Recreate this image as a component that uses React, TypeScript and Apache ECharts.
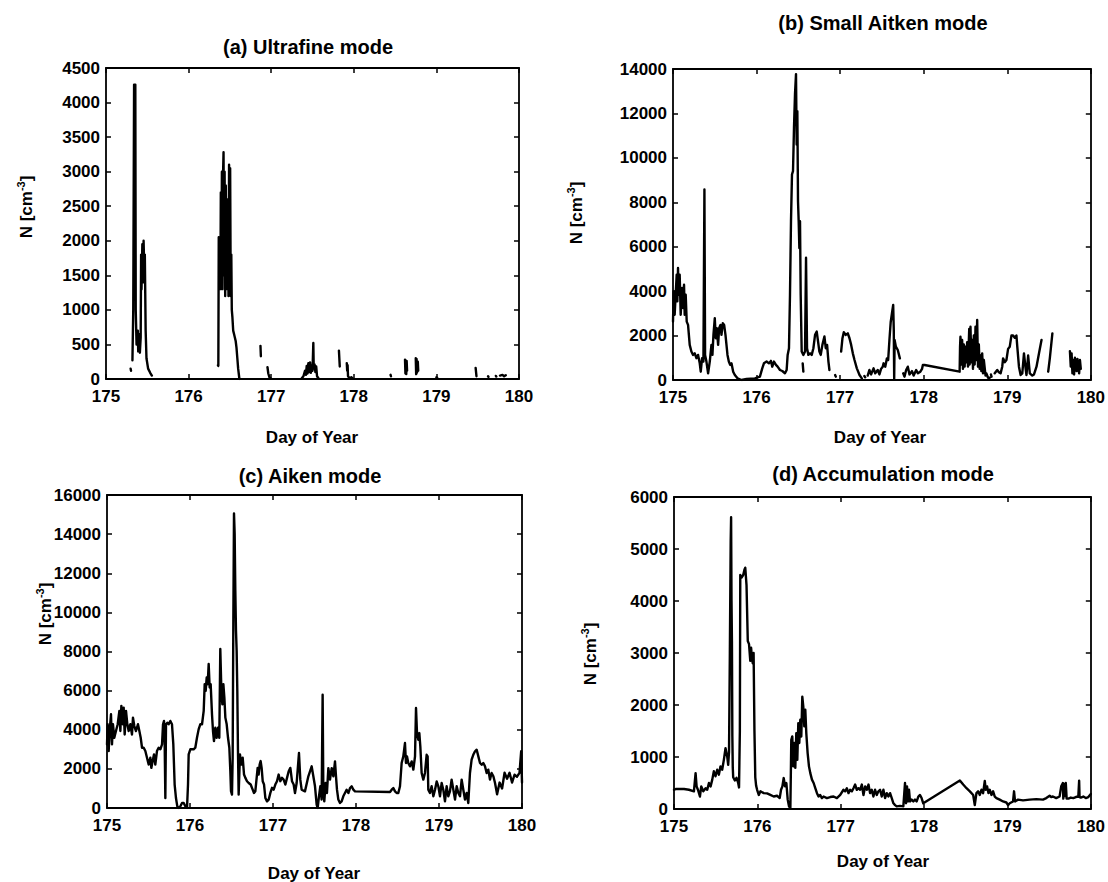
import React, { useEffect, useRef } from "react";
import * as echarts from "echarts";

type Pt = [number, number];

const FONT = '"Liberation Sans", Arial, Helvetica, sans-serif';

// Shared time axis (day of year)
const dayMin = 175;
const dayMax = 180;
const dayStep = 1;

const titles = [
  "(a) Ultrafine mode",
  "(b) Small Aitken mode",
  "(c) Aiken mode",
  "(d) Accumulation mode",
];
const xAxisName = "Day of Year";

// y-axis ranges: [max, step]
const ultrafineRange: [number, number] = [4500, 500];
const smallAitkenRange: [number, number] = [14000, 2000];
const aitkenRange: [number, number] = [16000, 2000];
const accumulationRange: [number, number] = [6000, 1000];

// (a) Ultrafine mode: number concentration, broken record
const ultrafineSegments: Pt[][] = [
  [[175.298, 150], [175.303, 120]],
  [[175.32, 270], [175.33, 1000], [175.34, 4260], [175.355, 4260], [175.36, 1000], [175.37, 500], [175.385, 700], [175.39, 400], [175.4, 650], [175.41, 380], [175.42, 600], [175.425, 1800], [175.43, 1300], [175.44, 1950], [175.45, 1400], [175.455, 2000], [175.465, 1500], [175.47, 1800], [175.48, 700], [175.49, 300], [175.51, 150], [175.535, 90], [175.555, 50]],
  [[176.355, 200], [176.36, 190], [176.365, 2050], [176.372, 1400], [176.378, 2000], [176.385, 1300], [176.39, 2700], [176.397, 1400], [176.403, 3000], [176.41, 1300], [176.416, 2900], [176.423, 3280], [176.43, 1500], [176.436, 3000], [176.443, 1200], [176.45, 2800], [176.456, 1300], [176.463, 2600], [176.47, 1400], [176.477, 2200], [176.483, 1200], [176.49, 3100], [176.497, 1500], [176.503, 3050], [176.51, 1200], [176.517, 1800], [176.523, 1000], [176.53, 900], [176.54, 700], [176.55, 650], [176.56, 600], [176.57, 550], [176.58, 450], [176.59, 300], [176.6, 150], [176.615, 0]],
  [[176.87, 480], [176.875, 330]],
  [[176.955, 170], [176.965, 80], [176.98, 20], [177.0, 5]],
  [[177.37, 10], [177.39, 40], [177.41, 120], [177.42, 60], [177.43, 190], [177.44, 80], [177.45, 230], [177.46, 100], [177.47, 240], [177.48, 90], [177.49, 200], [177.5, 120], [177.51, 520], [177.515, 150], [177.525, 210], [177.535, 100], [177.545, 180], [177.555, 40], [177.57, 15]],
  [[177.82, 410], [177.83, 180]],
  [[177.915, 230], [177.92, 120], [177.925, 200], [177.93, 40], [177.95, 10], [177.97, 25], [177.99, 5]],
  [[178.445, 60], [178.45, 40]],
  [[178.62, 280], [178.625, 80], [178.63, 270], [178.635, 70], [178.64, 260], [178.645, 120]],
  [[178.75, 300], [178.755, 70], [178.76, 290], [178.765, 90], [178.775, 250], [178.78, 120]],
  [[179.0, 25], [179.01, 15]],
  [[179.475, 160], [179.485, 40]],
  [[179.625, 40], [179.63, 30]],
  [[179.72, 45], [179.725, 35]],
  [[179.77, 50], [179.8, 60], [179.82, 40], [179.84, 55]],
];

// (b) Small Aitken mode
const smallAitkenSegments: Pt[][] = [
  [[175.0, 2630], [175.008, 3990], [175.02, 2935], [175.032, 3840], [175.044, 4740], [175.052, 3540], [175.06, 5040], [175.068, 3840], [175.08, 4740], [175.092, 2935], [175.108, 4140], [175.12, 3240], [175.132, 4290], [175.14, 2935], [175.152, 3840], [175.164, 2630], [175.18, 2480], [175.2, 1580], [175.22, 1280], [175.24, 1130], [175.26, 1200], [175.28, 980], [175.3, 1130], [175.32, 750], [175.332, 375], [175.348, 980], [175.364, 830], [175.376, 8580], [175.384, 1130], [175.4, 830], [175.42, 300], [175.44, 830], [175.46, 1580], [175.472, 1130], [175.484, 2030], [175.5, 2780], [175.512, 1880], [175.524, 2330], [175.54, 1580], [175.552, 2330], [175.568, 2480], [175.58, 2030], [175.596, 2560], [175.612, 2480], [175.628, 2030], [175.64, 1580], [175.652, 1130], [175.668, 830], [175.684, 680], [175.7, 750], [175.72, 375], [175.74, 225], [175.772, 75], [175.82, 0], [175.88, 45], [175.98, 75], [176.04, 150], [176.068, 525], [176.088, 750], [176.12, 830], [176.148, 750], [176.172, 860], [176.188, 600], [176.208, 830], [176.232, 680], [176.252, 600], [176.28, 450], [176.308, 405], [176.34, 300], [176.36, 450], [176.372, 1130], [176.388, 1430], [176.4, 3840], [176.412, 7150], [176.424, 9260], [176.436, 9400], [176.448, 11360], [176.46, 12870], [176.472, 13770], [176.48, 10600], [176.488, 12100], [176.496, 8050], [176.504, 7150], [176.512, 5945], [176.52, 7150], [176.528, 3840], [176.54, 1280], [176.56, 1130], [176.58, 1280], [176.592, 5500], [176.604, 1430], [176.62, 1130], [176.64, 1200], [176.66, 1130], [176.68, 1430], [176.7, 2030], [176.72, 2180], [176.736, 1730], [176.752, 1280], [176.768, 1130], [176.788, 1580], [176.812, 1960], [176.828, 1430], [176.844, 1580], [176.86, 830], [176.872, 450]],
  [[176.552, 750], [176.56, 375]],
  [[176.94, 225], [176.948, 150]],
  [[177.012, 1280], [177.028, 1880], [177.044, 2150], [177.068, 2030], [177.092, 2100], [177.112, 1880], [177.132, 1580], [177.152, 1200], [177.172, 900], [177.2, 525], [177.232, 225], [177.26, 75]],
  [[177.29, 180], [177.3, 120]],
  [[177.33, 200], [177.35, 450], [177.37, 250], [177.4, 525], [177.42, 300], [177.45, 450], [177.47, 250], [177.49, 500], [177.51, 600], [177.52, 750], [177.54, 600], [177.56, 975], [177.575, 900], [177.59, 1800], [177.605, 2600], [177.62, 3000], [177.635, 3380], [177.642, 2250], [177.647, 60], [177.652, 1800], [177.667, 1500], [177.69, 1350], [177.715, 975]],
  [[177.755, 300], [177.77, 150], [177.79, 450], [177.81, 600], [177.83, 250], [177.86, 400], [177.88, 200], [177.91, 450], [177.93, 300], [177.96, 375], [177.98, 500], [177.99, 680], [178.01, 675], [178.43, 375], [178.435, 1500], [178.44, 1950], [178.45, 700], [178.46, 1800], [178.47, 500], [178.48, 1600], [178.49, 600], [178.5, 1500], [178.51, 800], [178.52, 1700], [178.53, 600], [178.545, 2300], [178.55, 700], [178.56, 2400], [178.57, 800], [178.58, 1800], [178.59, 500], [178.6, 2000], [178.61, 700], [178.62, 2400], [178.63, 900], [178.64, 2700], [178.65, 600], [178.66, 1600], [178.67, 500], [178.68, 1100], [178.69, 400], [178.7, 1200], [178.71, 300], [178.72, 900], [178.74, 200], [178.75, 300], [178.77, 100], [178.79, 100]],
  [[178.805, 250], [178.812, 150]],
  [[178.85, 300], [178.88, 450], [178.9, 350], [178.92, 300], [178.94, 600], [178.95, 975], [178.97, 800], [178.99, 900], [179.01, 1400], [179.03, 1500], [179.05, 2000], [179.07, 2000], [179.09, 1900], [179.11, 2000], [179.12, 1500], [179.14, 600], [179.16, 225], [179.18, 300], [179.2, 1200], [179.22, 500], [179.23, 225], [179.25, 1100], [179.27, 300], [179.3, 200], [179.32, 250], [179.35, 600], [179.38, 1200], [179.41, 1800]],
  [[179.49, 375], [179.51, 1000], [179.54, 2100]],
  [[179.75, 1300], [179.76, 600], [179.77, 1200], [179.78, 300], [179.79, 900], [179.8, 250], [179.81, 1000], [179.83, 400], [179.84, 950], [179.86, 300], [179.87, 900], [179.88, 500]],
];

// (c) Aitken mode
const aitkenSeries: Pt[] = [
  [175.0, 3250], [175.008, 4280], [175.02, 2910], [175.032, 3935], [175.048, 4790], [175.06, 3250], [175.072, 4280], [175.088, 3590], [175.108, 3935], [175.129, 4280], [175.149, 4960], [175.161, 3935], [175.173, 5220], [175.189, 4280], [175.201, 5130], [175.213, 3760], [175.229, 4960], [175.245, 4280], [175.261, 3935], [175.281, 4280], [175.301, 3760], [175.313, 4620], [175.329, 4190], [175.349, 3935], [175.373, 4280], [175.39, 3935], [175.406, 3590], [175.422, 3080], [175.442, 3080], [175.462, 2910], [175.482, 2570], [175.502, 2220], [175.522, 2570], [175.534, 2050], [175.55, 2400], [175.566, 2740], [175.582, 2220], [175.602, 2910], [175.622, 3080], [175.643, 3000], [175.663, 3250], [175.675, 4280], [175.687, 4450], [175.695, 3250], [175.703, 510], [175.711, 4280], [175.727, 4360], [175.743, 4280], [175.763, 4450], [175.783, 4280], [175.799, 3250], [175.815, 1200], [175.831, 510], [175.847, 85], [175.863, 0], [175.884, 85], [175.904, 255], [175.924, 255], [175.944, 85], [175.964, 0], [175.976, 1200], [175.984, 2740], [176.004, 3000], [176.044, 3000], [176.064, 3080], [176.084, 3590], [176.104, 4020], [176.124, 4280], [176.145, 4280], [176.165, 4960], [176.177, 6330], [176.189, 5990], [176.201, 6670], [176.213, 6330], [176.225, 7360], [176.237, 6160], [176.249, 6330], [176.265, 4790], [176.277, 3935], [176.289, 3420], [176.305, 4100], [176.321, 3590], [176.337, 4100], [176.353, 3590], [176.365, 8130], [176.378, 5990], [176.39, 5300], [176.402, 6330], [176.414, 5650], [176.426, 4620], [176.442, 4280], [176.458, 3590], [176.474, 3080], [176.486, 1880], [176.494, 855], [176.506, 685], [176.514, 2570], [176.522, 9410], [176.53, 15060], [176.538, 14030], [176.546, 11120], [176.554, 9070], [176.562, 8040], [176.57, 5990], [176.578, 2910], [176.586, 685], [176.602, 2740], [176.618, 2220], [176.635, 2570], [176.651, 1710], [176.667, 1540], [176.687, 1370], [176.707, 1280], [176.731, 1200], [176.755, 940], [176.771, 770], [176.787, 855], [176.803, 1540], [176.815, 2050], [176.827, 1710], [176.839, 2220], [176.851, 2400], [176.863, 2050], [176.876, 1370], [176.892, 1200], [176.908, 510], [176.928, 340], [176.948, 430], [176.968, 770], [176.988, 1030], [177.008, 940], [177.028, 1200], [177.048, 1370], [177.068, 1710], [177.088, 1370], [177.108, 1540], [177.128, 1450], [177.149, 1200], [177.169, 1540], [177.189, 1880], [177.209, 2050], [177.229, 1370], [177.249, 1200],
  [177.265, 767], [177.285, 1278], [177.313, 2810], [177.329, 1450], [177.345, 935], [177.385, 850], [177.426, 1620], [177.446, 1870], [177.466, 2130], [177.486, 1620], [177.506, 1110], [177.526, 170], [177.538, 0], [177.554, 600], [177.57, 1110], [177.586, 430], [177.598, 5790], [177.606, 1110], [177.618, 340], [177.634, 1280], [177.65, 767], [177.667, 2040], [177.687, 1450], [177.707, 2040], [177.727, 1620], [177.747, 2380], [177.759, 1620], [177.771, 935], [177.787, 430], [177.807, 255], [177.827, 340], [177.847, 600], [177.867, 767], [177.887, 935], [177.908, 767], [177.928, 1020], [177.948, 1110], [177.968, 935], [177.988, 850], [178.41, 820], [178.43, 935], [178.45, 1020], [178.47, 850], [178.49, 767], [178.51, 767], [178.53, 1110], [178.55, 2300], [178.57, 2640], [178.59, 3320], [178.602, 2300], [178.614, 2640], [178.63, 2300], [178.65, 2130], [178.671, 2380], [178.691, 1960], [178.711, 2640], [178.723, 5110], [178.735, 3830], [178.751, 3490], [178.763, 3830], [178.775, 3150], [178.791, 1790], [178.811, 1450], [178.831, 1790], [178.851, 2720], [178.863, 2640], [178.871, 935], [178.891, 767], [178.911, 1110], [178.932, 600], [178.952, 935], [178.972, 1360], [178.992, 1110], [179.012, 600], [179.032, 1280], [179.052, 935], [179.072, 340], [179.092, 1110], [179.112, 600], [179.132, 850], [179.152, 1450], [179.173, 935], [179.193, 430], [179.213, 1110], [179.233, 767], [179.253, 600], [179.273, 1450], [179.293, 935], [179.313, 430], [179.333, 767], [179.353, 255], [179.373, 1790], [179.393, 2470], [179.413, 2720], [179.434, 2900], [179.454, 2980], [179.474, 2640], [179.494, 2300], [179.514, 2210], [179.534, 2300], [179.554, 2130], [179.574, 1790], [179.594, 1960], [179.614, 1450], [179.634, 1790], [179.655, 1620], [179.675, 1280],
  [179.7, 700], [179.73, 1300], [179.76, 1000], [179.79, 1800], [179.82, 1500], [179.85, 1800], [179.88, 1300], [179.91, 1700], [179.94, 1600], [179.97, 1800], [179.99, 2900], [180.0, 1300],
];

// (d) Accumulation mode
const accumulationSeries: Pt[] = [
  [175.0, 370], [175.02, 384], [175.12, 384], [175.179, 370], [175.239, 340], [175.259, 690], [175.271, 435], [175.287, 370], [175.311, 240], [175.327, 435], [175.351, 340], [175.379, 400], [175.399, 370], [175.419, 500], [175.439, 435], [175.459, 565], [175.478, 725], [175.498, 630], [175.518, 755], [175.538, 660], [175.558, 820], [175.578, 755], [175.598, 945], [175.618, 1170], [175.638, 1010], [175.65, 850], [175.66, 1100], [175.67, 3000], [175.68, 5150], [175.685, 5610], [175.69, 4000], [175.695, 3230], [175.7, 1400], [175.705, 800], [175.71, 610], [175.73, 550], [175.75, 600], [175.77, 500], [175.78, 415], [175.79, 1500], [175.795, 4500], [175.81, 4450], [175.83, 4500], [175.845, 4600], [175.855, 4640], [175.87, 4300], [175.885, 3230], [175.9, 3170], [175.915, 2850], [175.925, 3100], [175.935, 2900], [175.945, 2800], [175.955, 3000], [175.965, 1500], [175.975, 610], [175.985, 450], [175.997, 370], [176.017, 270], [176.037, 340], [176.077, 305], [176.116, 300], [176.156, 270], [176.196, 240], [176.236, 255], [176.268, 210], [176.284, 370], [176.3, 435], [176.316, 595], [176.332, 435], [176.348, 500], [176.364, 180], [176.38, 50], [176.396, 20], [176.407, 1330], [176.419, 1395], [176.431, 820], [176.443, 1270], [176.455, 790], [176.467, 1460], [176.479, 945], [176.491, 1650], [176.503, 1270], [176.515, 1715], [176.527, 1395], [176.539, 2160], [176.551, 1970], [176.563, 1590], [176.575, 1910], [176.587, 1460], [176.603, 1075], [176.619, 820], [176.635, 690], [176.655, 565], [176.675, 500], [176.695, 400], [176.715, 305], [176.734, 240], [176.754, 270], [176.774, 210], [176.794, 240], [176.834, 210], [176.874, 230], [176.914, 240], [176.954, 210], [176.994, 270], [177.033, 370], [177.053, 340], [177.073, 400], [177.093, 305], [177.113, 370], [177.133, 340], [177.153, 400], [177.173, 470], [177.193, 370], [177.213, 400], [177.233, 370], [177.253, 470], [177.273, 270], [177.293, 435], [177.313, 370], [177.333, 470], [177.352, 305], [177.372, 370], [177.392, 240], [177.412, 370], [177.432, 270], [177.452, 340], [177.472, 370], [177.492, 240], [177.512, 370], [177.532, 210], [177.552, 305], [177.572, 240], [177.592, 305], [177.612, 210], [177.632, 110], [177.652, 75], [177.671, 50], [177.711, 60], [177.751, 50], [177.771, 500], [177.783, 110], [177.795, 435], [177.807, 145], [177.819, 370], [177.831, 145], [177.851, 180], [177.871, 145], [177.891, 180], [177.911, 145], [177.931, 240], [177.951, 270], [177.97, 210], [177.99, 110], [178.429, 550], [178.469, 470], [178.509, 400], [178.549, 340], [178.589, 270], [178.608, 75], [178.628, 305], [178.648, 340], [178.668, 270], [178.688, 370], [178.708, 305], [178.728, 540], [178.74, 370], [178.756, 435], [178.772, 305], [178.788, 370], [178.808, 270], [178.828, 340], [178.848, 240], [178.868, 210], [178.907, 180], [178.947, 145], [178.987, 125], [179.007, 75], [179.027, 110], [179.067, 145], [179.079, 340], [179.091, 145], [179.127, 180], [179.187, 165], [179.266, 180], [179.346, 190], [179.426, 180], [179.466, 210], [179.506, 255], [179.525, 230], [179.545, 240], [179.585, 210], [179.625, 240], [179.645, 435], [179.665, 500], [179.67, 200], [179.68, 480], [179.69, 250], [179.7, 500], [179.71, 200], [179.73, 200], [179.76, 220], [179.79, 210], [179.82, 230], [179.85, 240], [179.86, 545], [179.865, 230], [179.88, 220], [179.91, 240], [179.94, 210], [179.97, 230], [180.0, 290],
];

// Join record pieces, leaving a break between consecutive pieces.
function joinSegments(segments: Pt[][]): (number | string)[][] {
  const out: (number | string)[][] = [];
  segments.forEach((seg, i) => {
    if (i > 0) out.push([seg[0][0], "-"]);
    seg.forEach((p) => out.push([p[0], p[1]]));
  });
  return out;
}

type PanelLayout = {
  grid: { left: number; top: number; width: number; height: number };
  titlePos: [number, number];
  xNamePos: [number, number];
  yNamePos: [number, number];
};

const layouts: PanelLayout[] = [
  { grid: { left: 106, top: 68, width: 413, height: 311 }, titlePos: [308, 47], xNamePos: [312, 437], yNamePos: [25, 207] },
  { grid: { left: 673, top: 69, width: 418, height: 311 }, titlePos: [883, 23], xNamePos: [880, 437], yNamePos: [575, 213] },
  { grid: { left: 107, top: 495, width: 415, height: 313 }, titlePos: [310, 476], xNamePos: [314, 873], yNamePos: [44, 614] },
  { grid: { left: 674, top: 497, width: 418, height: 312 }, titlePos: [883, 474], xNamePos: [883, 861], yNamePos: [589, 654] },
];

export default function App() {
  const ref = useRef<HTMLDivElement>(null);

  useEffect(() => {
    if (!ref.current) return;
    const chart = echarts.init(ref.current, undefined, { renderer: "svg" });

    const ranges = [ultrafineRange, smallAitkenRange, aitkenRange, accumulationRange];
    const seriesData = [
      joinSegments(ultrafineSegments),
      joinSegments(smallAitkenSegments),
      aitkenSeries.map((p) => [p[0], p[1]]),
      accumulationSeries.map((p) => [p[0], p[1]]),
    ];

    const lineStyle = { color: "#000", width: 1.8 };
    const tick = { show: true, inside: true, length: 5, lineStyle: { color: "#000", width: 1.5 } };
    const labelStyle = {
      color: "#000",
      fontSize: 17,
      lineHeight: 13,
      fontWeight: "bold" as const,
      fontFamily: FONT,
    };

    const grids: any[] = [];
    const xAxes: any[] = [];
    const yAxes: any[] = [];
    const series: any[] = [];
    const graphics: any[] = [];

    layouts.forEach((lay, i) => {
      const [yMax, yStep] = ranges[i];
      grids.push({ ...lay.grid, show: false, containLabel: false });
      const xBase = {
        gridIndex: i,
        type: "value",
        min: dayMin,
        max: dayMax,
        interval: dayStep,
        splitLine: { show: false },
        axisLine: { show: true, onZero: false, lineStyle },
        axisTick: tick,
      };
      xAxes.push({
        ...xBase,
        position: "bottom",
        axisLabel: { ...labelStyle, margin: 11, formatter: (v: number) => String(v) },
      });
      xAxes.push({ ...xBase, position: "top", axisLabel: { show: false } });
      const yBase = {
        gridIndex: i,
        type: "value",
        min: 0,
        max: yMax,
        interval: yStep,
        splitLine: { show: false },
        axisLine: { show: true, onZero: false, lineStyle },
        axisTick: tick,
      };
      yAxes.push({
        ...yBase,
        position: "left",
        axisLabel: { ...labelStyle, margin: 6, formatter: (v: number) => String(v) },
      });
      yAxes.push({ ...yBase, position: "right", axisLabel: { show: false } });

      series.push({
        type: "line",
        xAxisIndex: i * 2,
        yAxisIndex: i * 2,
        data: seriesData[i],
        showSymbol: false,
        symbol: "none",
        connectNulls: false,
        lineStyle: { color: "#000", width: 2.4, join: "round", cap: "round" },
        silent: true,
      });

      graphics.push({
        type: "text",
        x: lay.titlePos[0],
        y: lay.titlePos[1],
        style: {
          text: titles[i],
          fill: "#000",
          font: `bold 20px ${FONT}`,
          align: "center",
          verticalAlign: "middle",
          textAlign: "center",
          textVerticalAlign: "middle",
        },
      });
      graphics.push({
        type: "text",
        x: lay.xNamePos[0],
        y: lay.xNamePos[1],
        style: {
          text: xAxisName,
          fill: "#000",
          font: `bold 17px ${FONT}`,
          align: "center",
          verticalAlign: "middle",
          textAlign: "center",
          textVerticalAlign: "middle",
        },
      });
      graphics.push({
        type: "text",
        x: lay.yNamePos[0],
        y: lay.yNamePos[1],
        rotation: Math.PI / 2,
        style: {
          text: "{a|N [cm}{s|-3}{a|]}",
          align: "center",
          verticalAlign: "middle",
          textAlign: "center",
          textVerticalAlign: "middle",
          rich: {
            a: { fontSize: 17, fontWeight: "bold", fontFamily: FONT, fill: "#000", color: "#000", lineHeight: 20, verticalAlign: "bottom" },
            s: { fontSize: 11, fontWeight: "bold", fontFamily: FONT, fill: "#000", color: "#000", lineHeight: 10, verticalAlign: "top" },
          },
        },
      });
    });

    chart.setOption({
      animation: false,
      backgroundColor: "#fff",
      grid: grids,
      xAxis: xAxes,
      yAxis: yAxes,
      series,
      graphic: { elements: graphics },
    });

    return () => chart.dispose();
  }, []);

  return (
    <div
      ref={ref}
      style={{ position: "fixed", left: 0, top: 0, width: 1108, height: 882, background: "#fff" }}
    />
  );
}
